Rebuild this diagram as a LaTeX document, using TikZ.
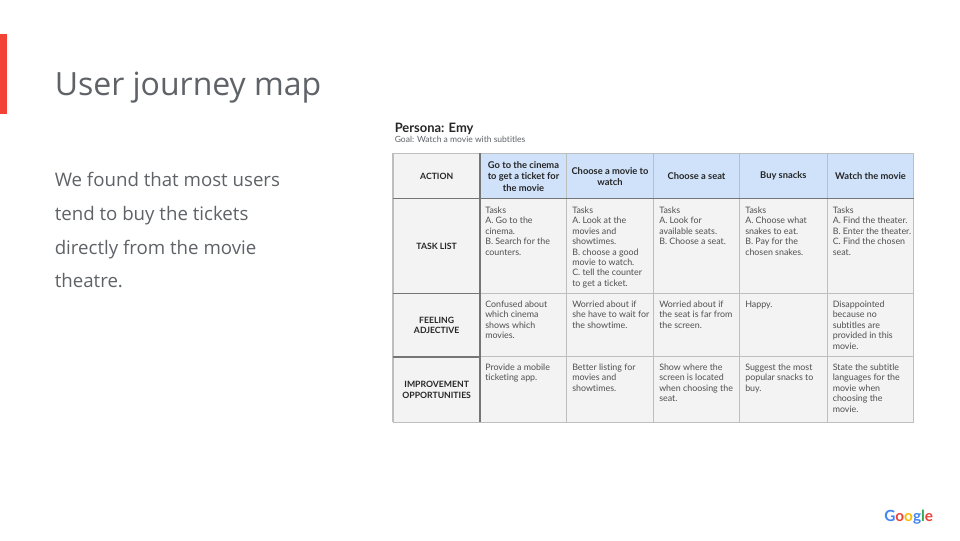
\documentclass[tikz,border=0pt]{standalone}
\usepackage{fontspec}
\setmainfont{Open Sans}
\newfontfamily\tblfont[Ligatures=NoCommon]{Lato}
\definecolor{slategrey}{HTML}{5F6368}
\definecolor{cellbg}{HTML}{F3F3F3}
\definecolor{headbg}{HTML}{CFE2FA}
\definecolor{thin}{HTML}{BDBEBE}
\definecolor{thick}{HTML}{747576}
\definecolor{gtext}{HTML}{505050}
\definecolor{barred}{HTML}{F24336}
\definecolor{gb}{HTML}{4285F4}\definecolor{gr}{HTML}{EA4335}\definecolor{gy}{HTML}{FBBC05}\definecolor{gg}{HTML}{34A853}
\tikzset{
  titletext/.style={anchor=base west,inner sep=0pt,text=slategrey,font=\fontsize{24}{28}\selectfont},
  bodytext/.style={anchor=base west,inner sep=0pt,text=slategrey,font=\fontsize{14}{18}\selectfont},
  celltext/.style={anchor=north west,inner sep=0pt,align=left,text=gtext,font=\tblfont\fontsize{6.65}{7.8}\selectfont},
  headtext/.style={anchor=center,inner sep=0pt,align=center,text=black!85,font=\tblfont\bfseries\fontsize{7}{8.7}\selectfont},
  rowtext/.style={anchor=center,inner sep=0pt,align=center,text=black!85,font=\tblfont\bfseries\fontsize{6.5}{8}\selectfont},
  thinline/.style={draw=thin,line width=0.95pt},
  thickline/.style={draw=thick,line width=1.35pt},
}
\begin{document}
\begin{tikzpicture}[x=0.75pt,y=-0.75pt]
\useasboundingbox (0,0) rectangle (960,540);
\fill[white] (0,0) rectangle (960,540);
\fill[barred] (0,34) rectangle (7,113.5);
\node[titletext] (title) at (54.5,95.3) {User journey map};
\node[bodytext] (b1) at (54.5,186.5) {We found that most users};
\node[bodytext] (b2) at (54.5,220.3) {tend to buy the tickets};
\node[bodytext] (b3) at (54.5,254) {directly from the movie};
\node[bodytext] (b4) at (54.5,287.5) {theatre.};
\node[anchor=base west,inner sep=0pt,text=black!85,font=\tblfont\bfseries\fontsize{9.7}{11}\selectfont] (persona) at (394.5,132) {Persona: Emy};
\node[anchor=base west,inner sep=0pt,text=slategrey,font=\tblfont\fontsize{6.4}{8}\selectfont] (goal) at (394.5,142) {Goal: Watch a movie with subtitles};
% backgrounds
\fill[cellbg] (393,153.3) rectangle (913.5,422.3);
\fill[headbg] (480.3,153.3) rectangle (913.5,198.3);
% thin lines
\draw[thinline] (393,153.3) -- (913.5,153.3);
\draw[thinline] (566.7,153.3) -- (566.7,422.3);
\draw[thinline] (653.3,153.3) -- (653.3,422.3);
\draw[thinline] (739.2,153.3) -- (739.2,422.3);
\draw[thinline] (827.2,153.3) -- (827.2,422.3);
\draw[thinline] (913.5,153.3) -- (913.5,422.3);
\draw[thinline] (393,153.3) -- (393,422.3);
\draw[thinline] (480.3,293.5) -- (913.5,293.5);
\draw[thinline] (480.3,356.8) -- (913.5,356.8);
\draw[thinline] (393,422.3) -- (913.5,422.3);
% thick lines
\draw[thickline] (393,198.5) -- (913.5,198.5);
\draw[thickline] (393,293.5) -- (480.3,293.5);
\draw[thickline] (393,356.8) -- (480.3,356.8);
\draw[thickline] (480.3,153.3) -- (480.3,422.3);
% headers
\node[rowtext] (h0) at (436.7,176.5) {ACTION};
\node[headtext] (h1) at (523.5,176.5) {Go to the cinema\\to get a ticket for\\the movie};
\node[headtext] (h2) at (610,176.5) {Choose a movie to\\watch};
\node[headtext] (h3) at (696.5,176) {Choose a seat};
\node[headtext] (h4) at (783.3,176) {Buy snacks};
\node[headtext] (h5) at (870.5,176) {Watch the movie};
\node[rowtext] (r1) at (436.7,246.5) {TASK LIST};
\node[rowtext] (r2) at (436.7,325.5) {FEELING\\ADJECTIVE};
\node[rowtext] (r3) at (436.7,389.8) {IMPROVEMENT\\OPPORTUNITIES};
% task row
\node[celltext] (c11) at (485,206.7) {Tasks\\A. Go to the\\cinema.\\B. Search for the\\counters.};
\node[celltext] (c12) at (572,206.7) {Tasks\\A. Look at the\\movies and\\showtimes.\\B. choose a good\\movie to watch.\\C. tell the counter\\to get a ticket.};
\node[celltext] (c13) at (659,206.7) {Tasks\\A. Look for\\available seats.\\B. Choose a seat.};
\node[celltext] (c14) at (745,206.7) {Tasks\\A. Choose what\\snakes to eat.\\B. Pay for the\\chosen snakes.};
\node[celltext] (c15) at (832.5,206.7) {Tasks\\A. Find the theater.\\B. Enter the theater.\\C. Find the chosen\\seat.};
% feeling row
\node[celltext] (c21) at (485,300.7) {Confused about\\which cinema\\shows which\\movies.};
\node[celltext] (c22) at (572,300.7) {Worried about if\\she have to wait for\\the showtime.};
\node[celltext] (c23) at (659,300.7) {Worried about if\\the seat is far from\\the screen.};
\node[celltext] (c24) at (745,300.7) {Happy.};
\node[celltext] (c25) at (832.5,300.7) {Disappointed\\because no\\subtitles are\\provided in this\\movie.};
% improvement row
\node[celltext] (c31) at (485,363.7) {Provide a mobile\\ticketing app.};
\node[celltext] (c32) at (572,363.7) {Better listing for\\movies and\\showtimes.};
\node[celltext] (c33) at (659,363.7) {Show where the\\screen is located\\when choosing the\\seat.};
\node[celltext] (c34) at (745,363.7) {Suggest the most\\popular snacks to\\buy.};
\node[celltext] (c35) at (832.5,363.7) {State the subtitle\\languages for the\\movie when\\choosing the\\movie.};
% logo
\node[anchor=base west,inner sep=0pt,font=\tblfont\bfseries\fontsize{11.5}{14}\selectfont] (logo) at (884,521) {\textcolor{gb}{G}\textcolor{gr}{o}\textcolor{gy}{o}\textcolor{gb}{g}\textcolor{gg}{l}\textcolor{gr}{e}};
\end{tikzpicture}
\end{document}
